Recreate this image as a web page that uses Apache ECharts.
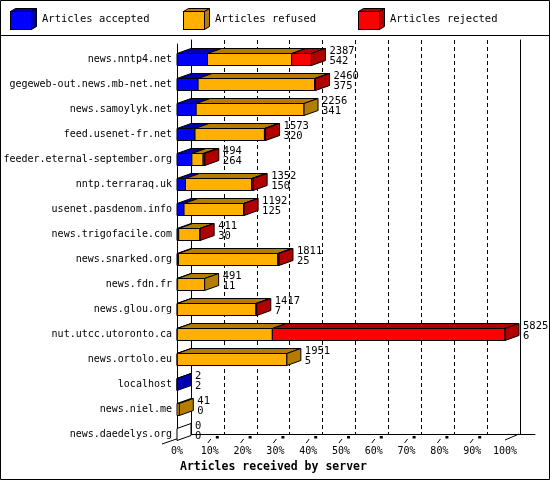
<!DOCTYPE html>
<html>
<head>
<meta charset="utf-8">
<script src="https://cdn.jsdelivr.net/npm/echarts@6/dist/echarts.min.js"></script>
<style>
body{margin:0;background:#fff;}
#main{width:550px;height:480px;}
</style>
</head>
<body>
<div id="main"></div>
<script>
var categories = ['news.nntp4.net', 'gegeweb-out.news.mb-net.net', 'news.samoylyk.net', 'feed.usenet-fr.net',
    'feeder.eternal-september.org', 'nntp.terraraq.uk', 'usenet.pasdenom.info', 'news.trigofacile.com',
    'news.snarked.org', 'news.fdn.fr', 'news.glou.org', 'nut.utcc.utoronto.ca', 'news.ortolo.eu',
    'localhost', 'news.niel.me', 'news.daedelys.org'];
var accepted = [542, 375, 341, 320, 264, 150, 125, 30, 25, 11, 7, 6, 5, 2, 0, 0];
var refused  = [1495, 2070, 1915, 1233, 200, 1177, 1059, 378, 1766, 480, 1395, 1687, 1946, 0, 41, 0];
var rejected = [350, 15, 0, 20, 30, 25, 8, 3, 20, 0, 15, 4132, 0, 0, 0, 0];
var totals   = [2387, 2460, 2256, 1573, 494, 1352, 1192, 411, 1811, 491, 1417, 5825, 1951, 2, 41, 0];
var seriesNames = ['Articles accepted', 'Articles refused', 'Articles rejected'];
var tickValues = [0, 10, 20, 30, 40, 50, 60, 70, 80, 90, 100];

var FRONT = ['#0000ff', '#ffb000', '#ff0000'];
var DARK = ['#0000b0', '#b47d00', '#b00000'];
var DX = 14, DY = 5, BAR_H = 12;

var layers = [accepted, refused, rejected];
var maxTotal = Math.max.apply(null, totals);
function pct(v){ return v / maxTotal * 100; }

// one row of data per server: [row, start, length, isLast, total, accepted, totalPct, lastLayer]
function layerData(li){
    return categories.map(function(c, k){
        var start = 0, last = -1;
        for (var j = 0; j < li; j++) start += layers[j][k];
        for (var j = 0; j < layers.length; j++) if (layers[j][k] > 0) last = j;
        return [k, pct(start), pct(layers[li][k]), last == li ? 1 : 0, totals[k], accepted[k], pct(totals[k]), last];
    });
}

function makeRender(li){
    return function(params, api){
        var row = api.value(0), start = api.value(1), len = api.value(2);
        var p0 = api.coord([start, row]);
        var p1 = api.coord([start + len, row]);
        var yT = p0[1] - BAR_H / 2, yB = p0[1] + BAR_H / 2;
        var kids = [];
        if (len > 0) {
            kids.push({type: 'rect', shape: {x: p0[0], y: yT, width: p1[0] - p0[0], height: BAR_H},
                style: {fill: FRONT[li], stroke: '#000', lineWidth: 1}});
            kids.push({type: 'polygon', shape: {points: [[p0[0], yT], [p1[0], yT], [p1[0] + DX, yT - DY], [p0[0] + DX, yT - DY]]},
                style: {fill: DARK[li], stroke: '#000', lineWidth: 1}});
        }
        var sideColor = null;
        if (api.value(3) == 1) sideColor = DARK[li];
        if (li == 2 && api.value(7) == -1) sideColor = '#ffffff';
        if (sideColor) {
            kids.push({type: 'polygon', shape: {points: [[p1[0], yT], [p1[0] + DX, yT - DY], [p1[0] + DX, yB - DY], [p1[0], yB]]},
                style: {fill: sideColor, stroke: '#000', lineWidth: 1}});
        }
        if (li == 2) {
            var xe = api.coord([api.value(6), row])[0];
            kids.push({type: 'text', style: {text: api.value(4) + '\n' + api.value(5), x: xe + DX + 4, y: p0[1] - 3.5,
                font: '10.5px "DejaVu Sans Mono"', fill: '#000', align: 'left', verticalAlign: 'middle', lineHeight: 10}});
        }
        return {type: 'group', children: kids};
    };
}

function renderTick(params, api){
    var v = api.value(0);
    var p = api.coord([v, 0]);
    var x = p[0], y = p[1];
    var kids = [];
    var ls = {stroke: '#000', lineWidth: 1};
    if (v == 0) {
        kids.push({type: 'line', shape: {x1: x - 15, y1: y + 4, x2: x + DX, y2: y - 6}, style: ls});
    } else if (v == 100) {
        kids.push({type: 'line', shape: {x1: x, y1: y, x2: x + DX, y2: y - 6}, style: ls});
    } else {
        kids.push({type: 'line', shape: {x1: x - 2, y1: y + 3, x2: x + 1, y2: y - 1}, style: ls});
        kids.push({type: 'rect', shape: {x: x + 6, y: y - 4, width: 3, height: 2.5}, style: {fill: '#000'}});
    }
    return {type: 'group', children: kids};
}

function cube(li){
    var svg = '<svg xmlns="http://www.w3.org/2000/svg" width="27" height="22">' +
        '<rect x="0.5" y="3.5" width="21" height="18" fill="' + FRONT[li] + '" stroke="#000"/>' +
        '<polygon points="0.5,3.5 5.5,0.5 26.5,0.5 21.5,3.5" fill="' + DARK[li] + '" stroke="#000"/>' +
        '<polygon points="21.5,3.5 26.5,0.5 26.5,18.5 21.5,21.5" fill="' + DARK[li] + '" stroke="#000"/>' +
        '</svg>';
    return 'image://data:image/svg+xml;charset=utf-8,' + encodeURIComponent(svg);
}

var legendLeft = [10, 183, 358];
var legends = seriesNames.map(function(n, i){
    return {left: legendLeft[i], top: 8, padding: 0, itemWidth: 27, itemHeight: 22, selectedMode: false,
        data: [{name: n, icon: cube(i)}],
        textStyle: {fontFamily: 'DejaVu Sans Mono', fontSize: 10.5, color: '#000'}};
});

var chart = echarts.init(document.getElementById('main'));
var option = {
    backgroundColor: '#fff',
    animation: false,
    title: {text: 'Articles received by server', left: 180, top: 461, padding: 0,
        textStyle: {fontFamily: 'DejaVu Sans Mono', fontSize: 11.5, fontWeight: 'bold', color: '#000'}},
    legend: legends,
    grid: [
        {left: 177, right: 45, top: 47, bottom: 33},
        {left: 191, right: 30, top: 40, bottom: 46},
        {left: 177, right: 45, top: 44, bottom: 40},
        {left: 191, right: 15, top: 40, bottom: 46}
    ],
    xAxis: [
        {gridIndex: 0, type: 'value', min: 0, max: 100, show: false},
        {gridIndex: 1, type: 'value', min: 0, max: 100, interval: 10, axisLine: {show: false}, axisTick: {show: false},
            axisLabel: {show: false}, splitLine: {show: true, lineStyle: {color: '#000', type: [4, 3]}}},
        {gridIndex: 2, type: 'value', min: 0, max: 100, interval: 10, axisLine: {show: false}, axisTick: {show: false},
            splitLine: {show: false},
            axisLabel: {formatter: '{value}%', margin: 6, color: '#000', fontFamily: 'DejaVu Sans Mono', fontSize: 10}},
        {gridIndex: 3, type: 'value', min: 0, max: 1, axisLine: {show: true, lineStyle: {color: '#000'}},
            axisTick: {show: false}, axisLabel: {show: false}, splitLine: {show: false}}
    ],
    yAxis: [
        {gridIndex: 0, type: 'category', data: categories, inverse: true, axisLine: {show: false}, axisTick: {show: false},
            axisLabel: {interval: 0, margin: 5, color: '#000', fontFamily: 'DejaVu Sans Mono', fontSize: 10}},
        {gridIndex: 1, type: 'value', min: 0, max: 1, position: 'left', axisLine: {show: true, lineStyle: {color: '#000'}},
            axisTick: {show: false}, axisLabel: {show: false}, splitLine: {show: false}},
        {gridIndex: 1, type: 'value', min: 0, max: 1, position: 'right', axisLine: {show: true, lineStyle: {color: '#000'}},
            axisTick: {show: false}, axisLabel: {show: false}, splitLine: {show: false}},
        {gridIndex: 2, type: 'value', min: 0, max: 1, axisLine: {show: true, lineStyle: {color: '#000'}},
            axisTick: {show: false}, axisLabel: {show: false}, splitLine: {show: false}},
        {gridIndex: 3, type: 'value', min: 0, max: 1, show: false}
    ],
    graphic: [
        {type: 'rect', shape: {x: 0.5, y: 0.5, width: 549, height: 479}, style: {fill: 'none', stroke: '#000', lineWidth: 1}},
        {type: 'line', shape: {x1: 0, y1: 35.5, x2: 550, y2: 35.5}, style: {stroke: '#000', lineWidth: 1}}
    ],
    series: [
        {type: 'custom', name: 'floor', xAxisIndex: 2, yAxisIndex: 3, encode: {x: 0, y: 1},
            data: tickValues.map(function(v){ return [v, 0]; }), renderItem: renderTick, silent: true}
    ]
};
seriesNames.forEach(function(n, i){
    option.series.push({type: 'custom', name: n, xAxisIndex: 0, yAxisIndex: 0, encode: {x: 1, y: 0},
        itemStyle: {color: FRONT[i]}, data: layerData(i), renderItem: makeRender(i), z: 3 + i});
});
chart.setOption(option);
</script>
</body>
</html>
